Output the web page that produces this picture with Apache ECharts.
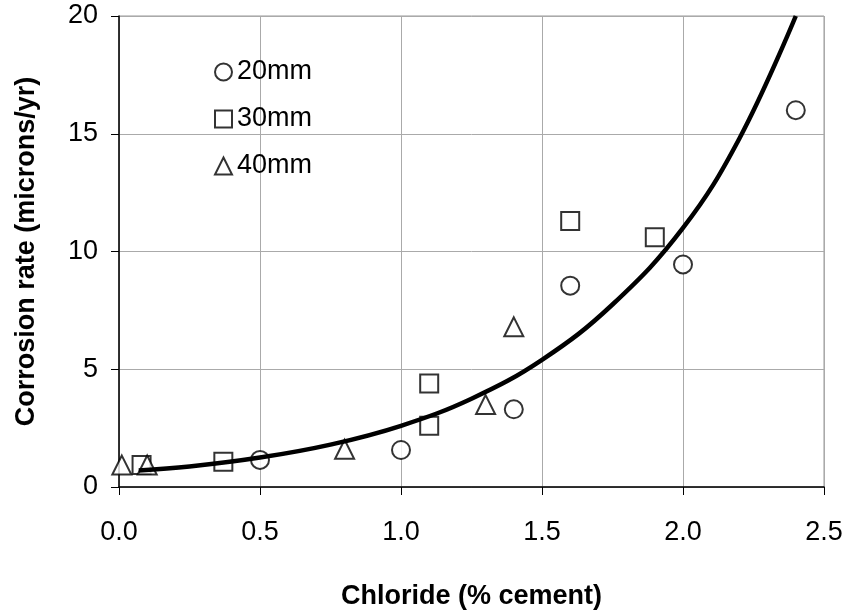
<!DOCTYPE html>
<html><head><meta charset="utf-8">
<script src="https://cdn.jsdelivr.net/npm/echarts@6/dist/echarts.min.js"></script>
<style>html,body{margin:0;padding:0;background:#fff}#c{width:848px;height:614px}</style>
</head><body><div id="c"></div>
<script>
const xTitle = 'Chloride (% cement)';
const yTitle = 'Corrosion rate (microns/yr)';
const names = ['20mm', '30mm', '40mm'];
const s20 = [[0.5, 1.15], [1.0, 1.57], [1.4, 3.3], [1.6, 8.55], [2.0, 9.45], [2.4, 16.0]];
const s30 = [[0.08, 0.93], [0.37, 1.07], [1.1, 2.6], [1.1, 4.4], [1.6, 11.3], [1.9, 10.6]];
const s40 = [[0.01, 0.93], [0.1, 0.93], [0.8, 1.6], [1.3, 3.5], [1.4, 6.8]];
const trendX = [0.07, 0.25, 0.5, 0.75, 1.0, 1.25, 1.5, 1.75, 2.0, 2.2, 2.4];
const trendY = [0.70, 0.87, 1.25, 1.8, 2.6, 3.75, 5.4, 7.75, 11.0, 14.8, 20.0];

const font = 'Liberation Sans, Arial, sans-serif';
const fs = 27;
const mk = {color: '#fff', borderColor: '#000', borderWidth: 2};
const chart = echarts.init(document.getElementById('c'), null, {renderer: 'canvas'});
chart.setOption({
  animation: false,
  grid: {left: 119, right: 24, top: 16, bottom: 127, show: true, borderColor: '#999', borderWidth: 1,
         containLabel: false, outerBoundsMode: 'none'},
  legend: {
    orient: 'vertical', left: 209, top: 52, itemGap: 17, itemWidth: 17, itemHeight: 17,
    textStyle: {fontFamily: font, fontSize: fs, lineHeight: 30, color: '#000'},
    data: names.map((n, i) => ({name: n, icon: ['circle', 'rect', 'triangle'][i]}))
  },
  xAxis: {
    type: 'value', min: 0, max: 2.5, interval: 0.5,
    name: xTitle, nameLocation: 'middle', nameGap: 96,
    nameTextStyle: {fontFamily: font, fontSize: fs, fontWeight: 'bold', color: '#000'},
    axisLine: {lineStyle: {color: '#000', width: 1.5}},
    axisTick: {show: true, length: 8, lineStyle: {color: '#000'}},
    axisLabel: {margin: 32, fontFamily: font, fontSize: fs, color: '#000', formatter: v => v.toFixed(1)},
    splitLine: {lineStyle: {color: '#aaa', width: 1}}
  },
  yAxis: {
    type: 'value', min: 0, max: 20, interval: 5,
    name: yTitle, nameLocation: 'middle', nameGap: 79, nameRotate: 90,
    nameTextStyle: {fontFamily: font, fontSize: fs, fontWeight: 'bold', color: '#000'},
    axisLine: {show: true, lineStyle: {color: '#000', width: 1.5}},
    axisTick: {show: true, length: 8, lineStyle: {color: '#000'}},
    axisLabel: {margin: 21, fontFamily: font, fontSize: fs, color: '#000'},
    splitLine: {lineStyle: {color: '#aaa', width: 1}}
  },
  series: [
    {name: names[0], type: 'scatter', symbol: 'circle', symbolSize: 18, itemStyle: mk, data: s20, z: 3},
    {name: names[1], type: 'scatter', symbol: 'rect', symbolSize: 18, itemStyle: mk, data: s30, z: 3},
    {name: names[2], type: 'scatter', symbol: 'triangle', symbolSize: 19, itemStyle: mk, data: s40, z: 3},
    {name: 'fit', type: 'line', smooth: 0.4, showSymbol: false, symbol: 'none', z: 4,
     lineStyle: {color: '#000', width: 4.5}, data: trendX.map((x, i) => [x, trendY[i]])}
  ]
});
</script></body></html>
